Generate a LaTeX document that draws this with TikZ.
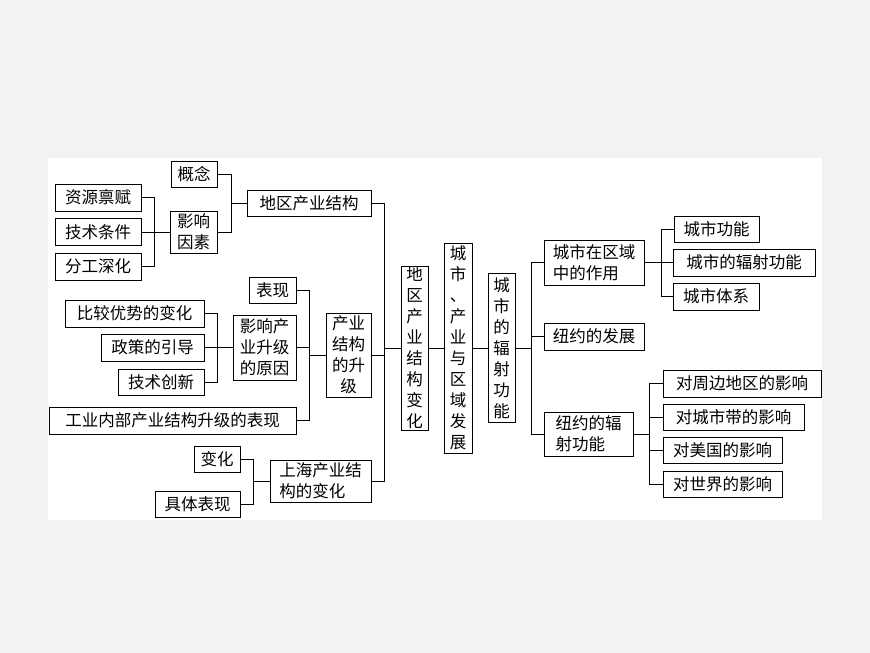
\documentclass[tikz,border=0pt]{standalone}
\usepackage{fontspec}
\setmainfont{Noto Sans CJK SC}
\usetikzlibrary{positioning}
\usetikzlibrary{calc}

\begin{document}
\begin{tikzpicture}[x=1pt,y=-1pt]
		\tikzstyle{elem} = [rectangle, draw=black, thick, inner sep=0pt, align=center, font=\fontsize{16.5}{21}\selectfont]
		\tikzstyle{link} = [thick]

		\fill[gray!10] (0,0) rectangle (870,653);
		\fill[white] (48,158) rectangle (822,520);

		% left part
		\node (gainian) [elem, minimum width=46, minimum height=26] at (194,174) {概念};
		\node (yinsu) [elem, minimum width=47, minimum height=42] at (193.5,232) {影响\\因素};
		\node (ziyuan) [elem, minimum width=86, minimum height=27] at (98,197.5) {资源禀赋};
		\node (jishu) [elem, minimum width=86, minimum height=27] at (98,232) {技术条件};
		\node (fengong) [elem, minimum width=86, minimum height=27] at (98,266.5) {分工深化};
		\node (dqjg) [elem, minimum width=124, minimum height=26] at (309,203) {地区产业结构};

		\node (biaoxian) [elem, minimum width=47, minimum height=26] at (272.5,290) {表现};
		\node (bijiao) [elem, minimum width=139, minimum height=27] at (134.5,313.5) {比较优势的变化};
		\node (zhengce) [elem, minimum width=103, minimum height=27] at (152.5,347.5) {政策的引导};
		\node (chuangxin) [elem, minimum width=86, minimum height=26] at (161,382) {技术创新};
		\node (yuanyin) [elem, minimum width=63, minimum height=65] at (264.5,347.5) {影响产\\业升级\\的原因};
		\node (gongye) [elem, minimum width=247, minimum height=27] at (172.5,420.5) {工业内部产业结构升级的表现};
		\node (shengji) [elem, minimum width=45, minimum height=84] at (348.5,355) {产业\\结构\\的升\\级};

		\node (bianhua) [elem, minimum width=46, minimum height=26] at (217,459) {变化};
		\node (juti) [elem, minimum width=85, minimum height=26] at (197.5,504) {具体表现};
		\node (shanghai) [elem, align=left, minimum width=101, minimum height=42] at (320.5,481) {上海产业结\\构的变化};

		% middle column
		\node (dqbh) [elem, minimum width=27, minimum height=164] at (414.5,348) {地\\区\\产\\业\\结\\构\\变\\化};
		\node (csfz) [elem, minimum width=28, minimum height=210] at (458,348) {城\\市\\、\\产\\业\\与\\区\\域\\发\\展};
		\node (fushe) [elem, minimum width=27, minimum height=149] at (501.5,348) {城\\市\\的\\辐\\射\\功\\能};

		% right part
		\node (zuoyong) [elem, align=left, minimum width=100, minimum height=45] at (594,262.5) {城市在区域\\中的作用};
		\node (niuyue) [elem, minimum width=100, minimum height=27] at (594,336.5) {纽约的发展};
		\node (nyfs) [elem, align=left, minimum width=89, minimum height=44] at (588.5,434) {纽约的辐\\射功能};

		\node (gongneng) [elem, minimum width=85, minimum height=26] at (716.5,229) {城市功能};
		\node (csfs) [elem, minimum width=142, minimum height=27] at (744,262.5) {城市的辐射功能};
		\node (tixi) [elem, minimum width=86, minimum height=27] at (716,296.5) {城市体系};

		\node (zhoubian) [elem, minimum width=158, minimum height=27] at (742,383.5) {对周边地区的影响};
		\node (chengshidai) [elem, minimum width=141, minimum height=26] at (733.5,417) {对城市带的影响};
		\node (meiguo) [elem, minimum width=119, minimum height=26] at (722.5,450) {对美国的影响};
		\node (shijie) [elem, minimum width=119, minimum height=26] at (722.5,484) {对世界的影响};

		\draw [link] (gainian.east) -- ++(14,0) |- (dqjg.west);
		\draw [link] (yinsu.east) -- ++(14,0) |- (dqjg.west);
		\draw [link] (ziyuan.east) -- ++(13,0) |- (yinsu.west);
		\draw [link] (jishu.east) -- (yinsu.west);
		\draw [link] (fengong.east) -- ++(13,0) |- (yinsu.west);

		\draw [link] (bijiao.east) -- ++(13,0) |- (yuanyin.west);
		\draw [link] (zhengce.east) -- (yuanyin.west);
		\draw [link] (chuangxin.east) -- ++(13,0) |- (yuanyin.west);
		\draw [link] (biaoxian.east) -- ++(13,0) |- (shengji.west);
		\draw [link] (yuanyin.east) -- ++(13,0) |- (shengji.west);
		\draw [link] (gongye.east) -- ++(13,0) |- (shengji.west);

		\draw [link] (bianhua.east) -- ++(13,0) |- (shanghai.west);
		\draw [link] (juti.east) -- ++(13,0) |- (shanghai.west);

		\draw [link] (dqjg.east) -- ++(13,0) |- (dqbh.west);
		\draw [link] (shengji.east) -- ++(13,0) |- (dqbh.west);
		\draw [link] (shanghai.east) -- ++(13,0) |- (dqbh.west);

		\draw [link] (dqbh.east) -- (csfz.west);
		\draw [link] (csfz.east) -- (fushe.west);

		\draw [link] (fushe.east) -- ++(16,0) |- (zuoyong.west);
		\draw [link] (fushe.east) -- ++(16,0) |- (niuyue.west);
		\draw [link] (fushe.east) -- ++(16,0) |- (nyfs.west);

		\draw [link] (zuoyong.east) -- ++(17,0) |- (gongneng.west);
		\draw [link] (zuoyong.east) -- (csfs.west);
		\draw [link] (zuoyong.east) -- ++(17,0) |- (tixi.west);

		\draw [link] (nyfs.east) -- ++(16,0) |- (zhoubian.west);
		\draw [link] (nyfs.east) -- ++(16,0) |- (chengshidai.west);
		\draw [link] (nyfs.east) -- ++(16,0) |- (meiguo.west);
		\draw [link] (nyfs.east) -- ++(16,0) |- (shijie.west);
	\end{tikzpicture}
\end{document}
